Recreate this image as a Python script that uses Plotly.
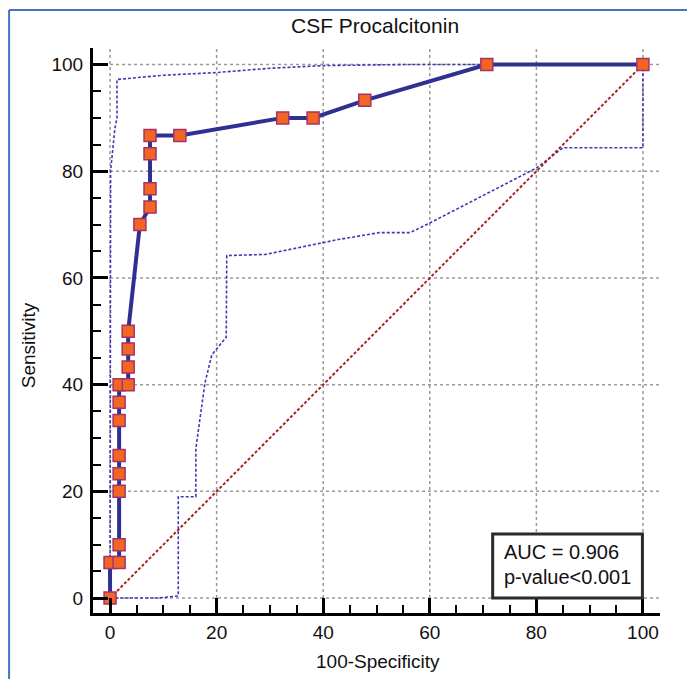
import plotly.graph_objects as go

# ---- data ----
roc_fpr = [0, 0, 1.7, 1.7, 1.7, 1.7, 1.7, 1.7, 1.7, 1.7, 3.4, 3.4, 3.4, 3.4,
           5.6, 7.5, 7.5, 7.5, 7.5, 13.1, 32.4, 38.1, 47.8, 70.7, 100]
roc_tpr = [0, 6.67, 6.67, 10, 20, 23.3, 26.7, 33.3, 36.7, 40, 40, 43.3, 46.7, 50,
           70, 73.3, 76.7, 83.3, 86.7, 86.7, 90, 90, 93.3, 100, 100]

upper_x = [0, 0.1, 0.9, 1.3, 1.3, 10, 20, 30, 40, 55, 70.7, 100]
upper_y = [0, 80, 88, 90, 97.2, 98.0, 98.5, 99.3, 99.8, 100, 100, 100]

lower_x = [0, 9.1, 12.8, 12.8, 16.1, 16.1, 17.8, 19.1, 21.8, 21.9, 29.1, 42.8,
           50.6, 56.3, 60, 68.5, 80, 85, 100, 100]
lower_y = [0, 0, 0.4, 19, 19, 28, 40.3, 45.6, 48.9, 64.2, 64.4, 67.2,
           68.5, 68.5, 70.3, 74.7, 80.6, 84.4, 84.4, 100]

diag_x = [0, 100]
diag_y = [0, 100]

tick_vals = [0, 20, 40, 60, 80, 100]
tick_text = ["0", "20", "40", "60", "80", "100"]

title_text = "CSF Procalcitonin"
x_title = "100-Specificity"
y_title = "Sensitivity"
auc_text = "AUC = 0.906"
p_text = "p-value<0.001"

FONT = "Liberation Sans, Arial, sans-serif"

fig = go.Figure()

band_style = dict(color="#3b3bb5", width=1.6, dash="3px,2px")
fig.add_trace(go.Scatter(x=upper_x, y=upper_y, mode="lines", line=band_style,
                         hoverinfo="skip"))
fig.add_trace(go.Scatter(x=lower_x, y=lower_y, mode="lines", line=band_style,
                         hoverinfo="skip"))
fig.add_trace(go.Scatter(x=diag_x, y=diag_y, mode="lines",
                         line=dict(color="#a3271a", width=2, dash="3px,2px"),
                         hoverinfo="skip"))
fig.add_trace(go.Scatter(x=roc_fpr, y=roc_tpr, mode="lines+markers",
                         line=dict(color="#2e3192", width=4),
                         marker=dict(symbol="square", size=12, color="#f26522",
                                     line=dict(color="#a3336b", width=1.5))))

shapes = []
grid_style = dict(color="#9a9a9a", width=1.5, dash="3px,3px")
for v in tick_vals:
    shapes.append(dict(type="line", xref="x", yref="y", x0=v, x1=v, y0=0, y1=103,
                       line=grid_style, layer="below"))
    shapes.append(dict(type="line", xref="x", yref="y", x0=0, x1=103, y0=v, y1=v,
                       line=grid_style, layer="below"))
# stat box
shapes.append(dict(type="rect", xref="x", yref="y", x0=71.8, x1=99.9, y0=0, y1=12,
                   fillcolor="white", line=dict(color="#2a2a2a", width=3),
                   layer="above"))
# outer blue frame (top and left edges)
shapes.append(dict(type="line", xref="paper", yref="paper", x0=-0.148, x1=1.2,
                   y0=1.0673, y1=1.0673, line=dict(color="#4a72c4", width=2)))
shapes.append(dict(type="line", xref="paper", yref="paper", x0=-0.148, x1=-0.148,
                   y0=1.0673, y1=-0.2, line=dict(color="#4a72c4", width=2)))

annotations = [
    dict(text=auc_text, x=73.5, y=8.7, xref="x", yref="y", xanchor="left",
         yanchor="middle", showarrow=False, font=dict(family=FONT, size=20, color="#111")),
    dict(text=p_text, x=73.5, y=3.9, xref="x", yref="y", xanchor="left",
         yanchor="middle", showarrow=False, font=dict(family=FONT, size=20, color="#111")),
    dict(text=title_text, x=0.497, y=1.039, xref="paper", yref="paper",
         xanchor="center", yanchor="middle", showarrow=False,
         font=dict(family=FONT, size=21, color="#111")),
    dict(text=x_title, x=0.503, y=-0.085, xref="paper", yref="paper",
         xanchor="center", yanchor="middle", showarrow=False,
         font=dict(family=FONT, size=19, color="#111")),
    dict(text=y_title, x=-0.1146, y=0.474, xref="paper", yref="paper",
         xanchor="center", yanchor="middle", showarrow=False, textangle=-90,
         font=dict(family=FONT, size=19, color="#111")),
]

axis_common = dict(
    showgrid=False, zeroline=False, showline=True, linecolor="black", linewidth=3,
    ticks="inside", ticklen=15, tickwidth=3, tickcolor="black",
    tickvals=tick_vals, ticktext=tick_text,
    tickfont=dict(family=FONT, size=19, color="#111"),
    minor=dict(ticks="inside", ticklen=8, tickwidth=2, tickcolor="black",
               dtick=5, tick0=0, showgrid=False),
    fixedrange=True,
)

fig.update_layout(
    width=687, height=679,
    margin=dict(l=93, r=27, t=48, b=66),
    paper_bgcolor="white", plot_bgcolor="white",
    showlegend=False,
    shapes=shapes, annotations=annotations,
    xaxis=dict(range=[-3.2, 103.2], **axis_common),
    yaxis=dict(range=[-2.8, 103.1], ticklabelstandoff=3, **axis_common),
)

fig.write_html("out.html", config={"displayModeBar": False},
               post_script="document.body.style.margin='0';document.body.style.overflow='hidden';")
